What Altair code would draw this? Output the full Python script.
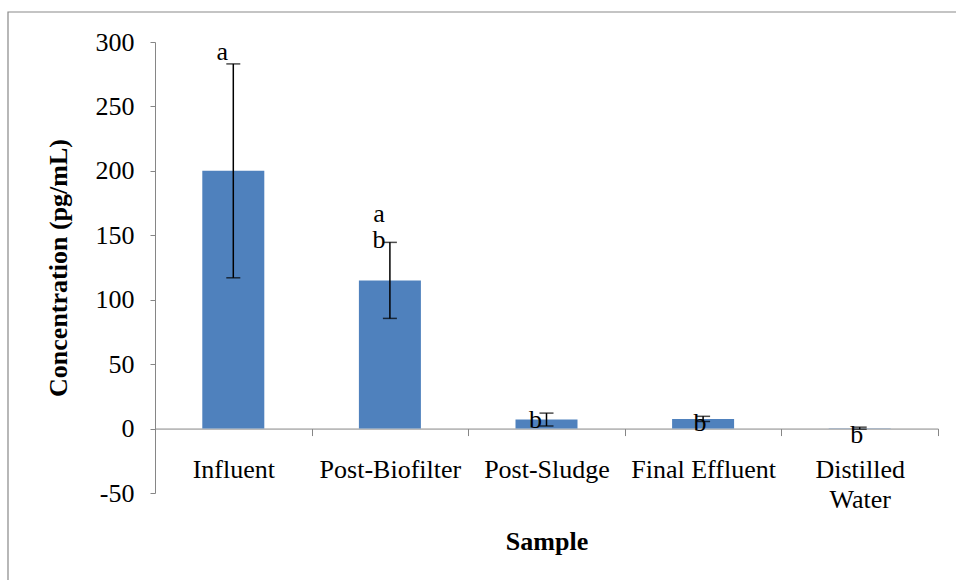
import altair as alt
import pandas as pd

samples = ["Influent", "Post-Biofilter", "Post-Sludge", "Final Effluent", "Distilled Water"]
means = [200, 115, 7, 7.5, 0.3]
errors = [83, 29.5, 5, 2, 0.8]

letter_samples = ["Influent", "Post-Biofilter", "Post-Biofilter", "Post-Sludge", "Final Effluent", "Distilled Water"]
letters = ["a", "a", "b", "b", "b", "b"]
letter_vals = [286, 160, 140, 0.8, -1.5, -11]

y_ticks = [-50, 0, 50, 100, 150, 200, 250, 300]

df = pd.DataFrame({"Sample": samples, "mean": means, "err": errors})
df["lo"] = df["mean"] - df["err"]
df["hi"] = df["mean"] + df["err"]
lab = pd.DataFrame({"Sample": letter_samples, "letter": letters, "v": letter_vals})

FONT = "Liberation Serif"
AXIS_GRAY = "#868686"
W, H = 783, 451
zero_off = -H * 50 / 350

x_enc = alt.X(
    "Sample:N",
    sort=samples,
    scale=alt.Scale(paddingInner=0, paddingOuter=0),
    axis=alt.Axis(
        title="Sample",
        orient="bottom",
        offset=zero_off,
        labelAngle=0,
        labelFont=FONT,
        labelFontSize=26,
        labelColor="black",
        labelPadding=21,
        labelLineHeight=30,
        labelExpr="datum.label == 'Distilled Water' ? ['Distilled', 'Water'] : datum.label",
        tickBand="extent",
        tickSize=7,
        tickColor=AXIS_GRAY,
        domainColor=AXIS_GRAY,
        titleFont=FONT,
        titleFontSize=26,
        titleFontWeight="bold",
        titleColor="black",
        titleY=113,
        titleBaseline="middle",
        grid=False,
    ),
)

y_scale = alt.Scale(domain=[-50, 300], nice=False, zero=False)
y_axis = alt.Axis(
    title="Concentration (pg/mL)",
    values=y_ticks,
    labelExpr="'' + datum.value",
    labelFont=FONT,
    labelFontSize=26,
    labelColor="black",
    labelPadding=16,
    tickSize=5,
    tickColor=AXIS_GRAY,
    domainColor=AXIS_GRAY,
    titleFont=FONT,
    titleFontSize=26,
    titleFontWeight="bold",
    titleColor="black",
    titleX=-97,
    titleY=H / 2,
    titleBaseline="middle",
    titleAngle=270,
    grid=False,
)

base = alt.Chart(df)

bars = base.mark_bar(size=62, color="#4F81BD").encode(
    x=x_enc,
    y=alt.Y("mean:Q", scale=y_scale, axis=y_axis),
    y2=alt.datum(0),
)

rules = base.mark_rule(color="black", strokeWidth=1.5).encode(
    x=alt.X("Sample:N", sort=samples),
    y=alt.Y("lo:Q", scale=y_scale),
    y2="hi:Q",
)

cap_hi = base.mark_tick(color="black", thickness=1.5, size=14, orient="horizontal").encode(
    x=alt.X("Sample:N", sort=samples),
    y=alt.Y("hi:Q", scale=y_scale),
)
cap_lo = base.mark_tick(color="black", thickness=1.5, size=14, orient="horizontal").encode(
    x=alt.X("Sample:N", sort=samples),
    y=alt.Y("lo:Q", scale=y_scale),
)

left_group = ["Influent", "Post-Biofilter", "Post-Sludge"]


def letter_layer(dx, inside):
    test = alt.FieldOneOfPredicate(field="Sample", oneOf=left_group)
    chart = alt.Chart(lab).mark_text(
        font=FONT, fontSize=26, color="black", baseline="alphabetic", align="center", dx=dx
    ).encode(
        x=alt.X("Sample:N", sort=samples),
        y=alt.Y("v:Q", scale=y_scale),
        text="letter:N",
    )
    if inside:
        return chart.transform_filter(test)
    return chart.transform_filter(~test)


texts_left = letter_layer(-11, True)
texts_right = letter_layer(-3, False)

border = alt.Chart(pd.DataFrame({"a": [0]})).mark_rect(
    fill=None, stroke="#898989", strokeWidth=1.2, clip=False
).encode(
    x=alt.value(8 - 155),
    x2=alt.value(1100),
    y=alt.value(12 - 42),
    y2=alt.value(800),
)

chart = alt.layer(border, bars, rules, cap_hi, cap_lo, texts_left, texts_right).properties(
    width=W,
    height=H,
    autosize=alt.AutoSizeParams(type="none"),
    padding={"left": 155, "top": 42, "right": 18, "bottom": 87},
    background="white",
).configure_view(stroke=None)

chart.save("out.html", embed_options={"renderer": "svg", "actions": False})
